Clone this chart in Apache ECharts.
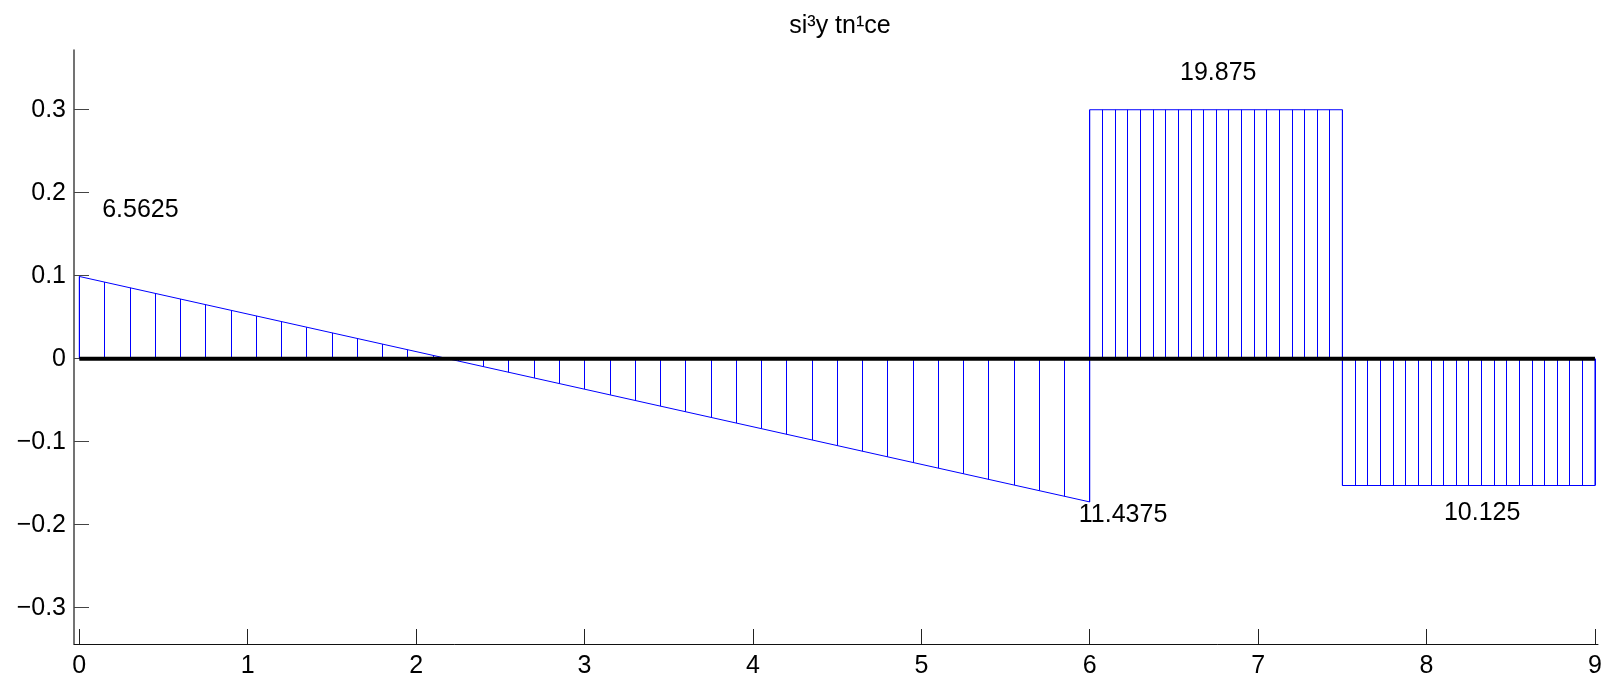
<!DOCTYPE html>
<html>
<head>
<meta charset="utf-8">
<script src="https://cdn.jsdelivr.net/npm/echarts@6/dist/echarts.min.js"></script>
<style>
html,body{margin:0;padding:0;background:#fff;}
#chart{width:1610px;height:682px;}
</style>
</head>
<body>
<div id="chart"></div>
<script>
// ---- data ----
const titleText = 'si³y tn¹ce';
const xTicks = [0, 1, 2, 3, 4, 5, 6, 7, 8, 9];
const xTickLabels = ['0', '1', '2', '3', '4', '5', '6', '7', '8', '9'];
const yTicks = [-0.3, -0.2, -0.1, 0, 0.1, 0.2, 0.3];
const yTickLabels = ['\u22120.3', '\u22120.2', '\u22120.1', '0', '0.1', '0.2', '0.3'];

// outline of the diagram (x, y)
const outlineX = [0, 0, 6, 6, 7.5, 7.5, 9, 9];
const outlineY = [0, 0.0991, -0.1726, 0.3, 0.3, -0.1528, -0.1528, 0];

// baseline
const baseX = [0, 9];
const baseY = [0, 0];

// hatching segment 1 (0..6)
const hatch1X = [0, 0.15, 0.3, 0.45, 0.6, 0.75, 0.9, 1.05, 1.2, 1.35, 1.5, 1.65, 1.8, 1.95, 2.1, 2.25, 2.4, 2.55, 2.7, 2.85, 3.0,
  3.15, 3.3, 3.45, 3.6, 3.75, 3.9, 4.05, 4.2, 4.35, 4.5, 4.65, 4.8, 4.95, 5.1, 5.25, 5.4, 5.55, 5.7, 5.85, 6.0];
const hatch1Y = [0.0991, 0.0923, 0.0855, 0.0787, 0.0719, 0.0651, 0.0583, 0.0515, 0.0447, 0.0379, 0.0311, 0.0243, 0.0176, 0.0108, 0.0040,
  -0.0028, -0.0096, -0.0164, -0.0232, -0.0300, -0.0368, -0.0436, -0.0504, -0.0572, -0.0640, -0.0708, -0.0775, -0.0843, -0.0911, -0.0979,
  -0.1047, -0.1115, -0.1183, -0.1251, -0.1319, -0.1387, -0.1455, -0.1523, -0.1590, -0.1658, -0.1726];
// hatching segment 2 (6..7.5)
const hatch2X = [6, 6.075, 6.15, 6.225, 6.3, 6.375, 6.45, 6.525, 6.6, 6.675, 6.75, 6.825, 6.9, 6.975, 7.05, 7.125, 7.2, 7.275, 7.35, 7.425, 7.5];
const hatch2Y = [0.3, 0.3, 0.3, 0.3, 0.3, 0.3, 0.3, 0.3, 0.3, 0.3, 0.3, 0.3, 0.3, 0.3, 0.3, 0.3, 0.3, 0.3, 0.3, 0.3, 0.3];
// hatching segment 3 (7.5..9)
const hatch3X = [7.5, 7.575, 7.65, 7.725, 7.8, 7.875, 7.95, 8.025, 8.1, 8.175, 8.25, 8.325, 8.4, 8.475, 8.55, 8.625, 8.7, 8.775, 8.85, 8.925, 9];
const hatch3Y = [-0.1528, -0.1528, -0.1528, -0.1528, -0.1528, -0.1528, -0.1528, -0.1528, -0.1528, -0.1528, -0.1528,
  -0.1528, -0.1528, -0.1528, -0.1528, -0.1528, -0.1528, -0.1528, -0.1528, -0.1528, -0.1528];

// value annotations
const annoText = ['6.5625', '19.875', '11.4375', '10.125'];
const annoX = [0.133, 6.533, 5.932, 8.100];
const annoY = [0.179, 0.344, -0.188, -0.186];

// ---- build ----
const FONT = 'Liberation Sans, Arial, Helvetica, sans-serif';
const FS = 25;
const hatchData = [];
[[hatch1X, hatch1Y], [hatch2X, hatch2Y], [hatch3X, hatch3Y]].forEach(([xs, ys]) => {
  xs.forEach((x, i) => hatchData.push({ coords: [[x, 0], [x, ys[i]]] }));
});

const chart = echarts.init(document.getElementById('chart'), null, { renderer: 'canvas' });
chart.setOption({
  animation: false,
  backgroundColor: '#fff',
  title: {
    text: titleText,
    left: 835,
    top: 9,
    textAlign: 'center',
    textStyle: { fontFamily: FONT, fontSize: FS, fontWeight: 'normal', color: '#000' }
  },
  grid: { left: 74, right: 12, top: 50, bottom: 38, containLabel: false },
  xAxis: {
    type: 'value',
    min: -0.0315,
    max: 9.018,
    axisLine: { show: true, onZero: false, lineStyle: { color: '#111', width: 1 } },
    axisTick: { show: true, inside: true, length: 15, customValues: xTicks, lineStyle: { color: '#222' } },
    axisLabel: {
      show: true, margin: 10, customValues: xTicks,
      formatter: v => xTickLabels[xTicks.indexOf(Math.round(v))],
      fontFamily: FONT, fontSize: FS, color: '#000'
    },
    splitLine: { show: false }
  },
  yAxis: {
    type: 'value',
    min: -0.3438,
    max: 0.372,
    axisLine: { show: true, onZero: false, lineStyle: { color: '#444', width: 1.5 } },
    axisTick: { show: true, inside: true, length: 15, customValues: yTicks, lineStyle: { color: '#444' } },
    axisLabel: {
      show: true, margin: 8, customValues: yTicks,
      formatter: v => {
        const i = yTicks.findIndex(t => Math.abs(t - v) < 1e-6);
        return i >= 0 ? yTickLabels[i] : '';
      },
      fontFamily: FONT, fontSize: FS, color: '#000'
    },
    splitLine: { show: false }
  },
  series: [
    {
      type: 'lines',
      coordinateSystem: 'cartesian2d',
      data: hatchData,
      lineStyle: { color: '#0000ff', width: 1, opacity: 1 },
      silent: true,
      z: 2
    },
    {
      type: 'line',
      data: outlineX.map((x, i) => [x, outlineY[i]]),
      symbol: 'none',
      lineStyle: { color: '#0000ff', width: 1 },
      silent: true,
      z: 3
    },
    {
      type: 'line',
      data: baseX.map((x, i) => [x, baseY[i]]),
      symbol: 'none',
      lineStyle: { color: '#000', width: 4, cap: 'butt' },
      silent: true,
      z: 4
    },
    {
      type: 'scatter',
      data: annoX.map((x, i) => ({ value: [x, annoY[i]], name: annoText[i] })),
      symbolSize: 1,
      itemStyle: { color: '#fff', opacity: 1 },
      label: {
        show: true,
        position: 'right',
        distance: 0,
        formatter: p => p.name,
        fontFamily: FONT, fontSize: FS, color: '#000', opacity: 1
      },
      silent: true,
      z: 5
    }
  ]
});
</script>
</body>
</html>
